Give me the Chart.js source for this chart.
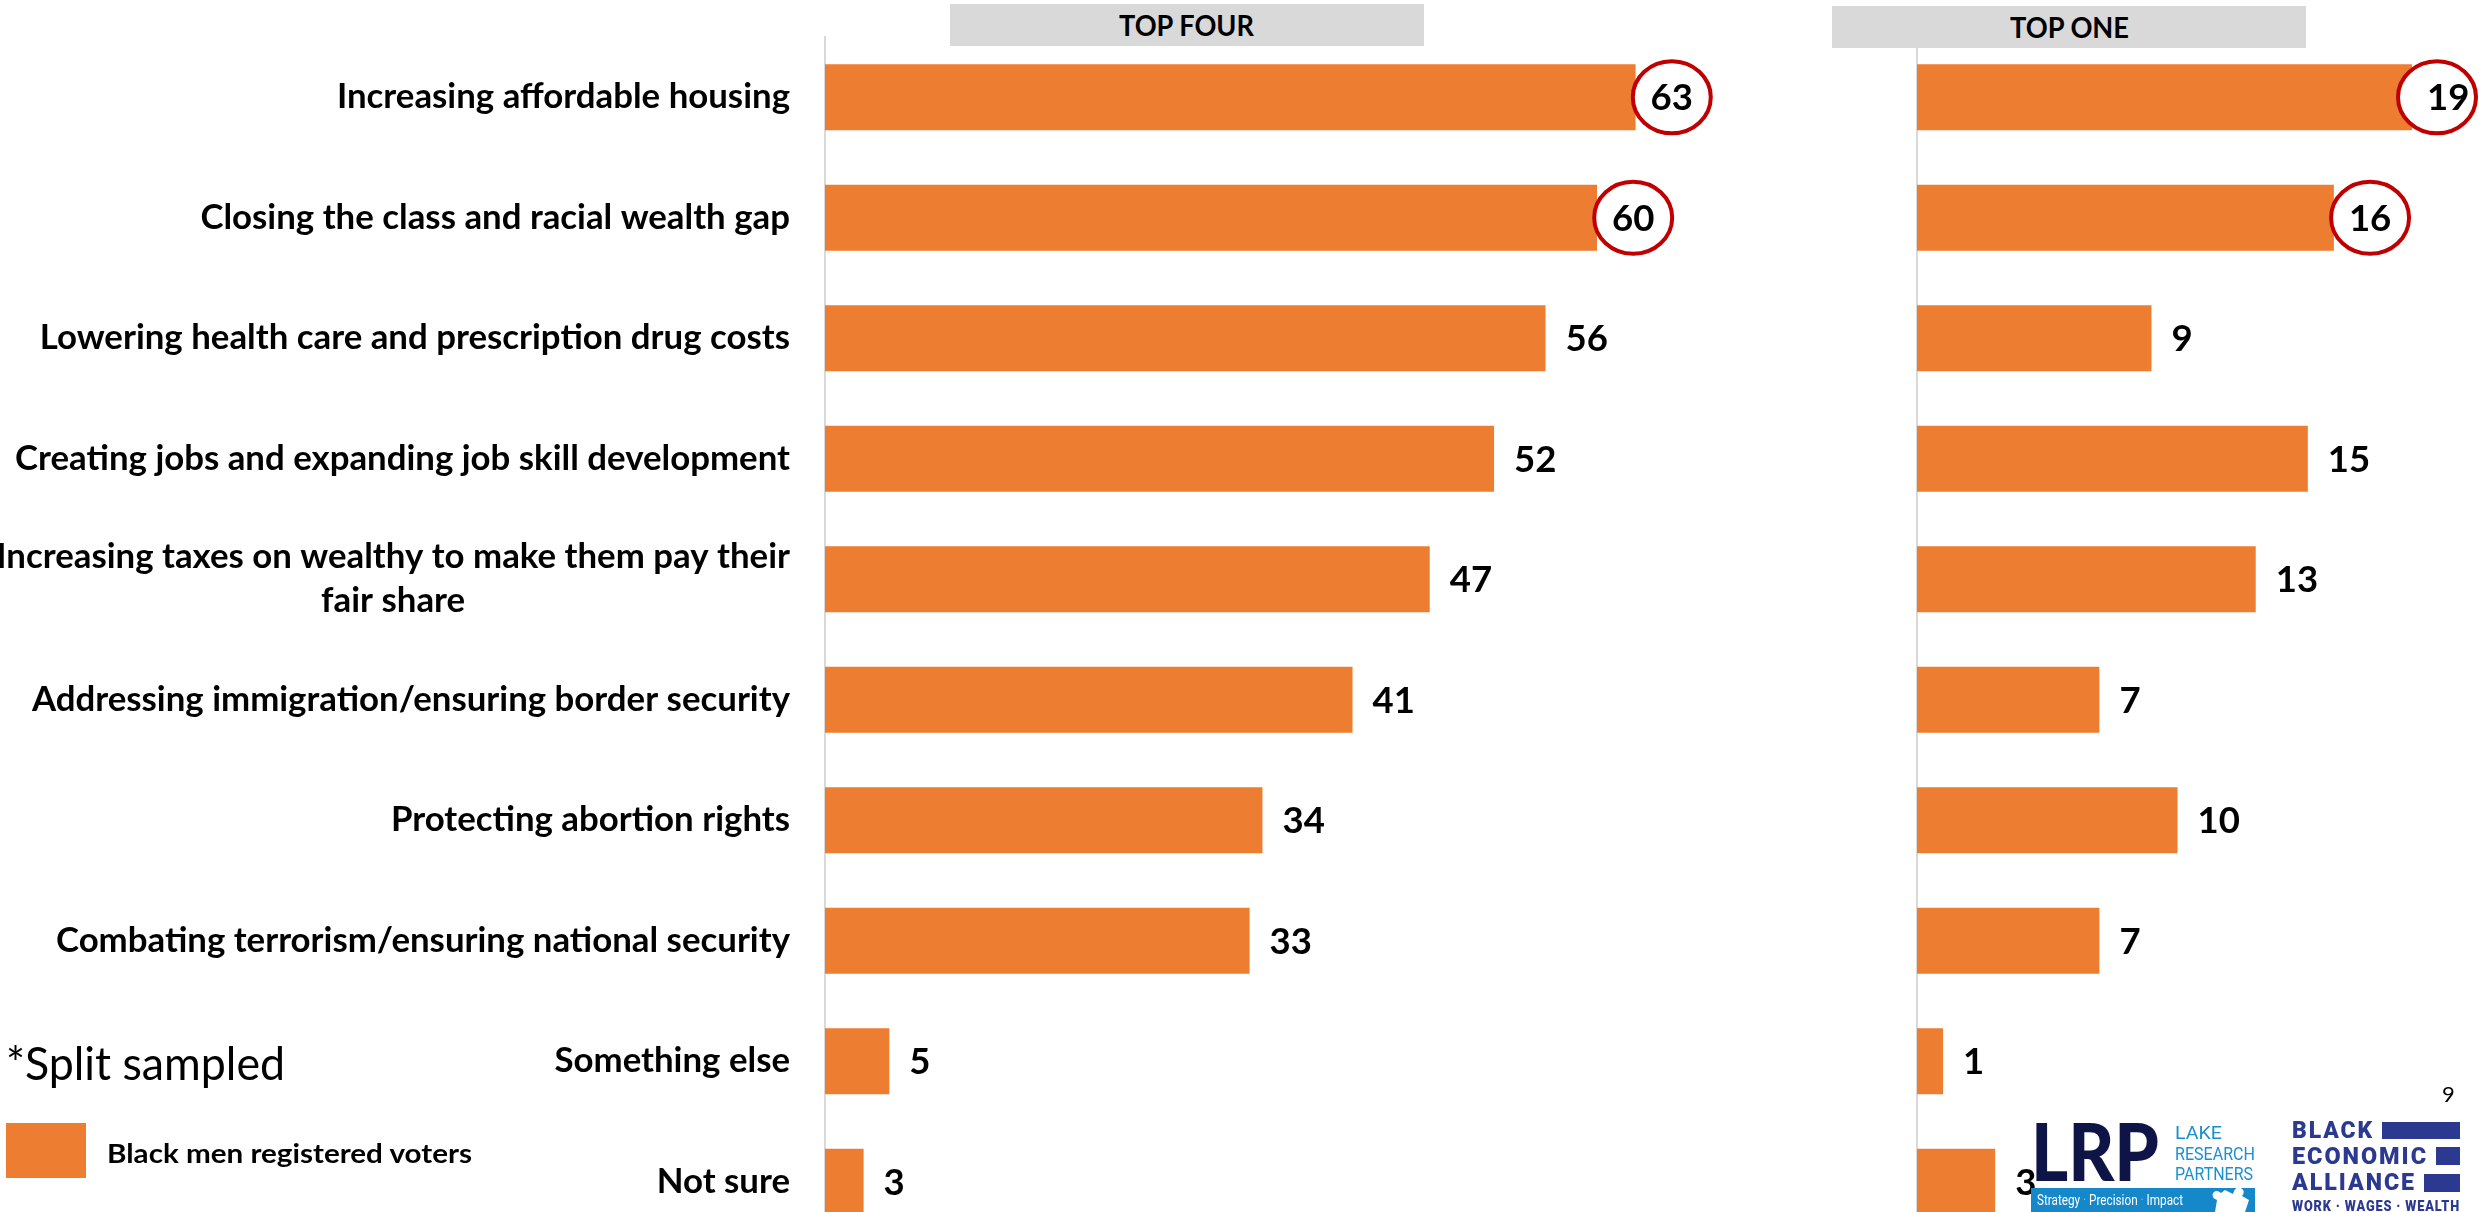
<!DOCTYPE html>
<html>
<head>
<meta charset="utf-8">
<script src="https://cdn.jsdelivr.net/npm/chart.js@4/dist/chart.umd.min.js"></script>
<style>
  html, body { margin:0; padding:0; width:2479px; height:1212px; overflow:hidden; background:#fff; }
  .abs { position:absolute; white-space:nowrap; }
  .fit { display:inline-block; transform-origin:left top; }
  .hdr { position:absolute; background:#d9d9d9; z-index:5; }
  .hdr span { position:absolute; top:0; font:700 28px Lato, sans-serif; line-height:42px; color:#000; }
</style>
</head>
<body>
<canvas id="c1" class="abs" style="left:0;top:0;" width="1790" height="1250"></canvas>
<canvas id="c2" class="abs" style="left:1800px;top:0;" width="679" height="1250"></canvas>

<div class="hdr" style="left:950px;top:4px;width:474px;height:42px;"><span class="fit" data-w="135" style="left:169px;">TOP FOUR</span></div>
<div class="hdr" style="left:1832px;top:6px;width:474px;height:42px;"><span class="fit" data-w="119" style="left:178px;">TOP ONE</span></div>

<div class="abs fit" data-w="279" style="left:6px;top:1040px;font:400 46px Lato, sans-serif;line-height:1;color:#000;">*Split sampled</div>
<div class="abs" style="left:6px;top:1123px;width:80px;height:55px;background:#ED7D31;"></div>
<div class="abs fit" data-w="365" style="left:107px;top:1140px;font:700 26px Lato, sans-serif;line-height:1;color:#000;">Black men registered voters</div>

<div class="abs" style="left:2442px;top:1083px;font:400 22px Lato, sans-serif;line-height:1;color:#000;">9</div>

<!-- LRP logo -->
<div class="abs" style="left:2031px;top:1110px;width:224px;height:102px;z-index:6;">
  <div class="abs fit" data-w="128" style="left:0;top:0;font:900 80px Lato, sans-serif;line-height:1;color:#0f1447;">LRP</div>
  <div class="abs" style="left:144px;top:13px;font:400 18px Roboto, sans-serif;line-height:20.5px;color:#1b8fd2;">
    <span class="fit" data-w="47">LAKE</span><br><span class="fit" data-w="80">RESEARCH</span><br><span class="fit" data-w="78">PARTNERS</span>
  </div>
  <div class="abs" style="left:0;top:78px;width:224px;height:24px;background:#1488ca;"></div>
  <div class="abs fit" data-w="146" style="left:6px;top:81px;font:400 15px Roboto, sans-serif;line-height:18px;color:#fff;">Strategy <span style="color:#6fc3f0">·</span> Precision <span style="color:#6fc3f0">·</span> Impact</div>
  <svg class="abs" style="left:178px;top:70px;" width="44" height="32" viewBox="0 0 44 32">
    <path d="M6 32 L8 20 Q2 18 4 13 Q7 9 12 13 L16 10 L24 14 Q26 6 32 8 Q37 11 33 16 L40 20 L36 32 Z" fill="#fff"/>
  </svg>
</div>

<!-- BEA logo -->
<div class="abs" style="left:2292px;top:1118px;width:170px;height:94px;z-index:6;color:#2b3990;">
  <div class="abs fit" data-w="82" style="left:0;top:0;font:900 24px Roboto, sans-serif;line-height:24px;letter-spacing:2px;">BLACK</div>
  <div class="abs" style="left:90px;top:4px;width:78px;height:17px;background:#2b3990;"></div>
  <div class="abs fit" data-w="136" style="left:0;top:26px;font:900 24px Roboto, sans-serif;line-height:24px;letter-spacing:2px;">ECONOMIC</div>
  <div class="abs" style="left:144px;top:29px;width:24px;height:18px;background:#2b3990;"></div>
  <div class="abs fit" data-w="124" style="left:0;top:52px;font:900 24px Roboto, sans-serif;line-height:24px;letter-spacing:2px;">ALLIANCE</div>
  <div class="abs" style="left:132px;top:56px;width:36px;height:18px;background:#2b3990;"></div>
  <div class="abs fit" data-w="168" style="left:0;top:80px;font:900 15px Roboto, sans-serif;line-height:16px;letter-spacing:1px;">WORK · WAGES · WEALTH</div>
</div>

<script>
// ---------- DATA ----------
const categories = [
  "Increasing affordable housing",
  "Closing the class and racial wealth gap",
  "Lowering health care and prescription drug costs",
  "Creating jobs and expanding job skill development",
  ["Increasing taxes on wealthy to make them pay their", "fair share"],
  "Addressing immigration/ensuring border security",
  "Protecting abortion rights",
  "Combating terrorism/ensuring national security",
  "Something else",
  "Not sure"
];
const topFour = [63, 60, 56, 52, 47, 41, 34, 33, 5, 3];
const topOne  = [19, 16, 9, 15, 13, 7, 10, 7, 1, 3];
const circledTopFour = [0, 1];
const circledTopOne  = [0, 1];
const seriesName = "Black men registered voters";

// ---------- STYLE ----------
const ORANGE = "#ED7D31";
const FAMILY = "Lato, sans-serif";
const mctx = document.createElement("canvas").getContext("2d");
mctx.font = "bold 100px " + FAMILY;
const FS = Math.round(100 * 590 / mctx.measureText("Closing the class and racial wealth gap").width * 10) / 10;
const VFS = FS * 1.05;

// fit html texts to measured widths
document.querySelectorAll(".fit").forEach(el => {
  const target = parseFloat(el.dataset.w);
  const w = el.getBoundingClientRect().width;
  if (w > 0) el.style.transform = "scaleX(" + (target / w) + ")";
});

function valueLabels(circled) {
  return {
    id: "valueLabels",
    afterDatasetsDraw(chart) {
      const ctx = chart.ctx;
      const meta = chart.getDatasetMeta(0);
      const data = chart.data.datasets[0].data;
      ctx.save();
      ctx.font = "bold " + VFS + "px " + FAMILY;
      ctx.textBaseline = "middle";
      ctx.textAlign = "left";
      meta.data.forEach((bar, i) => {
        const t = String(data[i]);
        const w = ctx.measureText(t).width;
        const isC = circled.includes(i);
        const x = bar.x + (isC ? 15 : 20);
        const y = bar.y;
        if (isC) {
          const rx = 39, ry = 36;
          const cx = Math.min(x + w / 2, chart.width - rx - 3);
          ctx.beginPath();
          ctx.ellipse(cx, y, rx, ry, 0, 0, Math.PI * 2);
          ctx.fillStyle = "#fff";
          ctx.fill();
          ctx.lineWidth = 4;
          ctx.strokeStyle = "#C00000";
          ctx.stroke();
        }
        ctx.fillStyle = "#000";
        ctx.fillText(t, x, y + 1);
      });
      ctx.restore();
    }
  };
}

const categoryLabels = {
  id: "categoryLabels",
  afterDraw(chart) {
    const ctx = chart.ctx;
    const ys = chart.scales.y;
    const right = chart.chartArea.left - 35;
    ctx.save();
    ctx.font = "bold " + FS + "px " + FAMILY;
    ctx.fillStyle = "#000";
    ctx.textBaseline = "middle";
    ctx.textAlign = "center";
    chart.data.labels.forEach((lab, i) => {
      const lines = Array.isArray(lab) ? lab : [lab];
      const y0 = ys.getPixelForTick(i);
      const maxW = Math.max(...lines.map(l => ctx.measureText(l).width));
      const cx = right - maxW / 2;
      lines.forEach((l, j) => {
        ctx.fillText(l, cx, y0 + (j - (lines.length - 1) / 2) * 44);
      });
    });
    ctx.restore();
  }
};

function makeChart(id, values, axisWidth, xMax, circled, withLabels) {
  return new Chart(document.getElementById(id), {
    type: "bar",
    data: {
      labels: categories,
      datasets: [{
        label: seriesName,
        data: values,
        backgroundColor: ORANGE,
        barPercentage: 0.548,
        categoryPercentage: 1
      }]
    },
    options: {
      indexAxis: "y",
      responsive: false,
      animation: false,
      devicePixelRatio: 1,
      layout: { padding: { top: 37, bottom: 8, left: 0, right: 0 } },
      plugins: { legend: { display: false }, tooltip: { enabled: false } },
      scales: {
        x: { display: false, min: 0, max: xMax },
        y: {
          display: true,
          offset: true,
          grid: { display: false },
          border: { display: true, color: "#d9d9d9", width: 2 },
          ticks: { display: false },
          afterFit(s) { s.width = axisWidth; }
        }
      }
    },
    plugins: withLabels ? [categoryLabels, valueLabels(circled)] : [valueLabels(circled)]
  });
}

makeChart("c1", topFour, 825, 75, circledTopFour, true);
makeChart("c2", topOne, 117, 21.57, circledTopOne, false);
</script>
</body>
</html>
